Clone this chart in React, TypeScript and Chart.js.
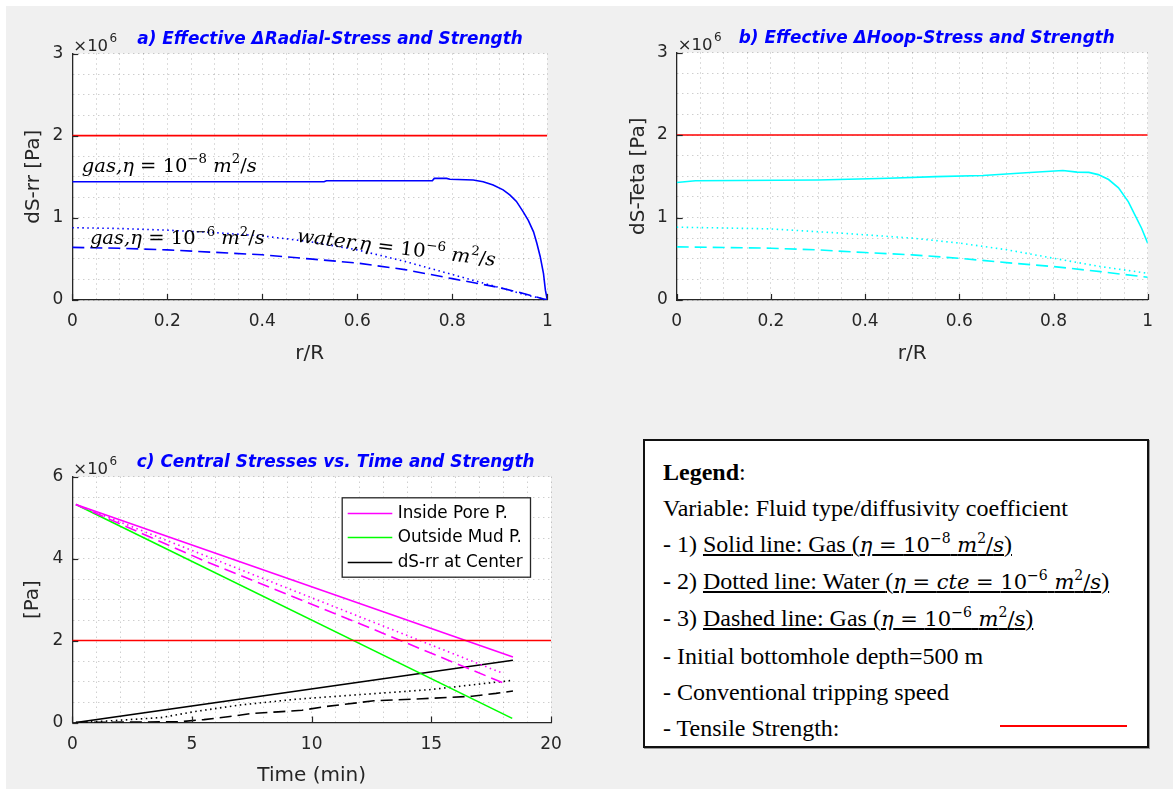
import React, { useEffect, useRef } from 'react';
import { Chart, registerables } from 'chart.js';

Chart.register(...registerables);

// ================= DATA (stresses in units of 10^6 Pa, as on the "×10^6" axes) =================
const tensileStrength = 2;

// tick labels
const rTicks = [0, 0.2, 0.4, 0.6, 0.8, 1];
const stressTicksAB = [0, 1, 2, 3];
const timeTicks = [0, 5, 10, 15, 20];
const stressTicksC = [0, 2, 4, 6];

// a) Effective Δ radial stress vs r/R
const radialGasSlowR = [0, 0.53, 0.535, 0.758, 0.762, 0.788, 0.795, 0.844, 0.865, 0.886, 0.907, 0.921, 0.935, 0.949, 0.96, 0.971, 0.978, 0.985, 0.992, 0.996, 1];
const radialGasSlowS = [1.44, 1.44, 1.452, 1.452, 1.48, 1.48, 1.47, 1.46, 1.44, 1.40, 1.34, 1.28, 1.20, 1.075, 0.97, 0.83, 0.69, 0.53, 0.32, 0.12, 0];
const radialWaterR = [0, 0.1, 0.2, 0.3, 0.4, 0.5, 0.6, 0.7, 0.8, 0.9, 0.95, 1];
const radialWaterS = [0.88, 0.87, 0.85, 0.82, 0.78, 0.71, 0.61, 0.47, 0.31, 0.15, 0.07, 0];
const radialGasFastR = [0, 0.1, 0.2, 0.3, 0.4, 0.5, 0.6, 0.7, 0.8, 0.9, 0.95, 1];
const radialGasFastS = [0.64, 0.63, 0.61, 0.58, 0.55, 0.50, 0.45, 0.37, 0.26, 0.15, 0.08, 0];

// b) Effective Δ hoop stress vs r/R
const hoopGasSlowR = [0, 0.04, 0.3, 0.45, 0.55, 0.65, 0.75, 0.82, 0.85, 0.875, 0.895, 0.917, 0.938, 0.959, 0.973, 0.987, 1];
const hoopGasSlowS = [1.425, 1.445, 1.455, 1.475, 1.495, 1.51, 1.545, 1.57, 1.55, 1.547, 1.52, 1.46, 1.36, 1.19, 1.03, 0.87, 0.69];
const hoopWaterR = [0, 0.2, 0.35, 0.5, 0.6, 0.7, 0.8, 0.9, 1];
const hoopWaterS = [0.883, 0.862, 0.81, 0.75, 0.69, 0.61, 0.506, 0.405, 0.324];
const hoopGasFastR = [0, 0.2, 0.3, 0.4, 0.5, 0.6, 0.7, 0.8, 0.9, 1];
const hoopGasFastS = [0.644, 0.628, 0.607, 0.575, 0.547, 0.506, 0.453, 0.405, 0.344, 0.275];

// c) Central stresses vs time (min)
const poreGasSlowT = [0.15, 18.41];
const poreGasSlowP = [5.32, 1.60];
const poreWaterT = [0.15, 17.99];
const poreWaterP = [5.32, 1.20];
const poreGasFastT = [0.15, 5.5, 11.6, 17.99];
const poreGasFastP = [5.32, 3.95, 2.51, 0.97];
const mudT = [0.15, 18.38];
const mudP = [5.32, 0.10];
const centerGasSlowT = [0.15, 18.41];
const centerGasSlowS = [0, 1.52];
const centerWaterT = [0.15, 1.3, 3.7, 5.05, 6.9, 9.2, 10.8, 14.9, 18.41];
const centerWaterS = [0, 0.03, 0.12, 0.26, 0.42, 0.56, 0.63, 0.80, 1.03];
const centerGasFastT = [0.15, 4.5, 5.5, 6.5, 7.5, 8.6, 9.6, 10.6, 12.6, 14.6, 16.7, 17.7, 18.41];
const centerGasFastS = [0, 0.02, 0.07, 0.14, 0.22, 0.26, 0.30, 0.39, 0.53, 0.58, 0.64, 0.71, 0.77];

// ================= STYLE =================
const FONT = '"DejaVu Sans", "Liberation Sans", sans-serif';
const MATH = '"DejaVu Serif", serif';
const INK = '#262626';
const GRID = 'rgba(38,38,38,0.32)';
const RED = '#ff0000';
const BLUE = '#0000ff';
const CYAN = '#00ffff';
const MAGENTA = '#ff00ff';
const GREEN = '#00ff00';
const BLACK = '#000000';

type LineStyle = 'solid' | 'dot' | 'dash';
type Part = { t: string; it?: boolean; sup?: boolean };
type Annotation = { x: number; y: number; angle: number; width: number; size: number; parts: Part[] };
type Area = { left: number; top: number; right: number; bottom: number };
type Panel = {
  W: number; H: number; area: Area;
  xTicks: number[]; xStep: number; yTicks: number[]; yStep: number;
  xTitle: string; yTitle: string; xTitleGap: number; yTitleGap: number;
  title: string; titleDx: number;
  datasets: any[];
  annotations?: Annotation[];
  legend?: { left: number; top: number; width: number; height: number; firstRow: number; rowGap: number };
};

function series(label: string, xs: number[], ys: number[], color: string, style: LineStyle, inLegend = false) {
  return {
    label,
    inLegend,
    data: xs.map((x, i) => ({ x, y: ys[i] })),
    borderColor: color,
    backgroundColor: color,
    borderWidth: 1.6,
    borderDash: style === 'dot' ? [1.5, 3.5] : style === 'dash' ? [12, 6] : [],
    borderCapStyle: 'butt',
    pointRadius: 0,
    pointHoverRadius: 0,
    fill: false,
    tension: 0,
  };
}

function strengthLine(xTicks: number[]) {
  const x0 = xTicks[0];
  const x1 = xTicks[xTicks.length - 1];
  return series('Tensile Strength', [x0, x1], [tensileStrength, tensileStrength], RED, 'solid');
}

const gasSlowText: Part[] = [
  { t: 'gas,', it: true }, { t: 'η', it: true }, { t: ' = ' }, { t: '10' }, { t: '−8', sup: true },
  { t: ' ' }, { t: 'm', it: true }, { t: '2', sup: true }, { t: '/' }, { t: 's', it: true },
];
const gasFastText: Part[] = [
  { t: 'gas,', it: true }, { t: 'η', it: true }, { t: ' = ' }, { t: '10' }, { t: '−6', sup: true },
  { t: ' ' }, { t: 'm', it: true }, { t: '2', sup: true }, { t: '/' }, { t: 's', it: true },
];
const waterText: Part[] = [
  { t: 'water,', it: true }, { t: 'η', it: true }, { t: ' = ' }, { t: '10' }, { t: '−6', sup: true },
  { t: ' ' }, { t: 'm', it: true }, { t: '2', sup: true }, { t: '/' }, { t: 's', it: true },
];

function partFont(p: Part, size: number) {
  const fs = p.sup ? size * 0.68 : size;
  return `${p.it ? 'italic ' : ''}${fs}px ${MATH}`;
}

function decor(p: Panel) {
  return {
    id: 'decor',
    beforeDraw(chart: any) {
      const { ctx, chartArea: a } = chart;
      ctx.save();
      ctx.fillStyle = '#ffffff';
      ctx.fillRect(a.left, a.top, a.right - a.left, a.bottom - a.top);
      ctx.restore();
    },
    afterDraw(chart: any) {
      const { ctx, chartArea: a, scales } = chart;
      const xs = scales.x;
      const ys = scales.y;
      ctx.save();
      // inward major tick marks
      ctx.strokeStyle = INK;
      ctx.lineWidth = 1.2;
      ctx.setLineDash([]);
      for (const v of p.xTicks) {
        const px = Math.round(xs.getPixelForValue(v)) + 0.5;
        ctx.beginPath();
        ctx.moveTo(px, a.bottom);
        ctx.lineTo(px, a.bottom - 6);
        ctx.stroke();
      }
      for (const v of p.yTicks) {
        const py = Math.round(ys.getPixelForValue(v)) + 0.5;
        ctx.beginPath();
        ctx.moveTo(a.left, py);
        ctx.lineTo(a.left + 6, py);
        ctx.stroke();
      }
      // exponent "×10^6"
      ctx.fillStyle = INK;
      ctx.textBaseline = 'alphabetic';
      ctx.textAlign = 'left';
      ctx.font = `16.5px ${FONT}`;
      const ex = a.left + 1;
      const ey = a.top - 2.5;
      ctx.fillText('×10', ex, ey);
      const w10 = ctx.measureText('×10').width;
      ctx.font = `12px ${FONT}`;
      ctx.fillText('6', ex + w10 + 1.5, ey - 9.5);
      // title
      ctx.fillStyle = '#0000ff';
      ctx.font = `italic bold 16.9px ${FONT}`;
      ctx.fillText(p.title, a.left + p.titleDx, a.top - 9.5);
      // math annotations
      for (const an of p.annotations || []) {
        let natural = 0;
        for (const part of an.parts) {
          ctx.font = partFont(part, an.size);
          natural += ctx.measureText(part.t).width;
        }
        const sx = an.width / natural;
        ctx.save();
        ctx.translate(xs.getPixelForValue(an.x), ys.getPixelForValue(an.y));
        ctx.rotate((an.angle * Math.PI) / 180);
        ctx.scale(sx, 1);
        ctx.fillStyle = '#000000';
        let cx = 0;
        for (const part of an.parts) {
          ctx.font = partFont(part, an.size);
          ctx.fillText(part.t, cx, part.sup ? -an.size * 0.45 : 0);
          cx += ctx.measureText(part.t).width;
        }
        ctx.restore();
      }
      // boxed legend
      if (p.legend) {
        const L = p.legend;
        ctx.fillStyle = '#ffffff';
        ctx.fillRect(L.left, L.top, L.width, L.height);
        ctx.strokeStyle = INK;
        ctx.lineWidth = 1.3;
        ctx.strokeRect(L.left + 0.5, L.top + 0.5, L.width, L.height);
        const items = chart.data.datasets.filter((d: any) => d.inLegend);
        items.forEach((d: any, i: number) => {
          const y = Math.round(L.top + L.firstRow + i * L.rowGap) + 0.5;
          ctx.strokeStyle = d.borderColor;
          ctx.lineWidth = d.borderWidth;
          ctx.setLineDash(d.borderDash || []);
          ctx.beginPath();
          ctx.moveTo(L.left + 6, y);
          ctx.lineTo(L.left + 50.6, y);
          ctx.stroke();
          ctx.setLineDash([]);
          ctx.fillStyle = '#000000';
          ctx.font = `16.8px ${FONT}`;
          ctx.textBaseline = 'middle';
          ctx.fillText(d.label, L.left + 56, y);
        });
      }
      ctx.restore();
    },
  };
}

function buildConfig(p: Panel): any {
  const labeler = (majors: number[]) => (v: any) => {
    const n = Number(v);
    const m = majors.find((t) => Math.abs(t - n) < 1e-7 * Math.max(1, Math.abs(t)));
    return m === undefined ? '' : String(m);
  };
  const tickFont = { family: FONT, size: 17 };
  const titleFont = { family: FONT, size: 20 };
  return {
    type: 'line',
    data: { datasets: p.datasets },
    options: {
      responsive: false,
      animation: false,
      events: [],
      layout: { padding: { left: 0, top: p.area.top, right: p.W - p.area.right, bottom: 0 } },
      plugins: { legend: { display: false }, tooltip: { enabled: false }, title: { display: false } },
      scales: {
        x: {
          type: 'linear',
          position: 'bottom',
          min: p.xTicks[0],
          max: p.xTicks[p.xTicks.length - 1],
          ticks: {
            stepSize: p.xStep, maxTicksLimit: 1000, autoSkip: false, maxRotation: 0, minRotation: 0,
            padding: 11.5, color: INK, font: tickFont, callback: labeler(p.xTicks),
          },
          grid: { color: GRID, lineWidth: 1, drawTicks: false },
          border: { display: true, color: INK, width: 1.3, dash: [1, 4] },
          title: {
            display: true, text: p.xTitle, color: INK, font: titleFont,
            padding: { top: 0, bottom: p.H - p.area.bottom - p.xTitleGap - 12 },
          },
          afterFit: (s: any) => { s.height = p.H - p.area.bottom; },
        },
        y: {
          type: 'linear',
          position: 'left',
          min: p.yTicks[0],
          max: p.yTicks[p.yTicks.length - 1],
          ticks: {
            stepSize: p.yStep, maxTicksLimit: 1000, autoSkip: false,
            padding: 9, color: INK, font: tickFont, callback: labeler(p.yTicks),
          },
          grid: { color: GRID, lineWidth: 1, drawTicks: false },
          border: { display: true, color: INK, width: 1.3, dash: [1, 4] },
          title: {
            display: true, text: p.yTitle, color: INK, font: titleFont,
            padding: { top: p.area.left - p.yTitleGap - 12, bottom: 0 },
          },
          afterFit: (s: any) => { s.width = p.area.left; },
        },
      },
    },
    plugins: [decor(p)],
  };
}

const panelA: Panel = {
  W: 590, H: 400,
  area: { left: 72.3, top: 53.5, right: 547.3, bottom: 300 },
  xTicks: rTicks, xStep: 0.05, yTicks: stressTicksAB, yStep: 0.25,
  xTitle: 'r/R', yTitle: 'dS-rr [Pa]', xTitleGap: 53.5, yTitleGap: 39,
  title: 'a) Effective ΔRadial-Stress and Strength', titleDx: 65,
  datasets: [
    strengthLine(rTicks),
    series('Gas η=1e-8', radialGasSlowR, radialGasSlowS, BLUE, 'solid'),
    series('Water η=1e-6', radialWaterR, radialWaterS, BLUE, 'dot'),
    series('Gas η=1e-6', radialGasFastR, radialGasFastS, BLUE, 'dash'),
  ],
  annotations: [
    { x: 0.02, y: 1.56, angle: 0, width: 175, size: 19, parts: gasSlowText },
    { x: 0.037, y: 0.68, angle: 0, width: 175, size: 19, parts: gasFastText },
    { x: 0.472, y: 0.71, angle: 7, width: 200, size: 19, parts: waterText },
  ],
};

const panelB: Panel = {
  W: 583, H: 400,
  area: { left: 86.7, top: 52.5, right: 557.7, bottom: 300 },
  xTicks: rTicks, xStep: 0.05, yTicks: stressTicksAB, yStep: 0.25,
  xTitle: 'r/R', yTitle: 'dS-Teta [Pa]', xTitleGap: 54, yTitleGap: 38.2,
  title: 'b) Effective ΔHoop-Stress and Strength', titleDx: 62,
  datasets: [
    strengthLine(rTicks),
    series('Gas η=1e-8', hoopGasSlowR, hoopGasSlowS, CYAN, 'solid'),
    series('Water η=1e-6', hoopWaterR, hoopWaterS, CYAN, 'dot'),
    series('Gas η=1e-6', hoopGasFastR, hoopGasFastS, CYAN, 'dash'),
  ],
};

const panelC: Panel = {
  W: 600, H: 369,
  area: { left: 72.3, top: 56.7, right: 551, bottom: 302.5 },
  xTicks: timeTicks, xStep: 1, yTicks: stressTicksC, yStep: 0.5,
  xTitle: 'Time (min)', yTitle: '[Pa]', xTitleGap: 53.5, yTitleGap: 40,
  title: 'c) Central Stresses vs. Time and Strength', titleDx: 64.5,
  datasets: [
    strengthLine(timeTicks),
    series('Inside Pore P.', poreGasSlowT, poreGasSlowP, MAGENTA, 'solid', true),
    series('Inside Pore P. (water)', poreWaterT, poreWaterP, MAGENTA, 'dot'),
    series('Inside Pore P. (gas 1e-6)', poreGasFastT, poreGasFastP, MAGENTA, 'dash'),
    series('Outside Mud P.', mudT, mudP, GREEN, 'solid', true),
    series('dS-rr at Center', centerGasSlowT, centerGasSlowS, BLACK, 'solid', true),
    series('dS-rr at Center (water)', centerWaterT, centerWaterS, BLACK, 'dot'),
    series('dS-rr at Center (gas 1e-6)', centerGasFastT, centerGasFastS, BLACK, 'dash'),
  ],
  legend: { left: 341.7, top: 77.3, width: 188.3, height: 79.4, firstRow: 15.4, rowGap: 24.5 },
};

function ChartCanvas({ panel, left, top }: { panel: Panel; left: number; top: number }) {
  const ref = useRef<HTMLCanvasElement>(null);
  useEffect(() => {
    const chart = new Chart(ref.current as HTMLCanvasElement, buildConfig(panel));
    return () => chart.destroy();
  }, [panel]);
  return (
    <canvas
      ref={ref}
      width={panel.W}
      height={panel.H}
      style={{ position: 'absolute', left, top, width: panel.W, height: panel.H }}
    />
  );
}

const mathStyle: React.CSSProperties = { fontFamily: MATH, fontSize: 21 };
const mathIt: React.CSSProperties = { fontFamily: MATH, fontSize: 21, fontStyle: 'italic' };
const supStyle: React.CSSProperties = { fontFamily: MATH, fontSize: 14, verticalAlign: 9, lineHeight: 0 };

function Eta({ expo, cte }: { expo: string; cte?: boolean }) {
  return (
    <span>
      (<span style={mathIt}>η</span>
      <span style={mathStyle}> = </span>
      {cte ? (
        <>
          <span style={mathIt}>cte</span>
          <span style={mathStyle}> = </span>
        </>
      ) : null}
      <span style={mathStyle}>10</span>
      <span style={supStyle}>{expo}</span>
      <span style={mathStyle}> </span>
      <span style={mathIt}>m</span>
      <span style={supStyle}>2</span>
      <span style={mathStyle}>/</span>
      <span style={mathIt}>s</span>)
    </span>
  );
}

function NoteBox() {
  return (
    <div
      style={{
        position: 'absolute', left: 643, top: 439, width: 506, height: 309, boxSizing: 'border-box',
        border: '2px solid #111', background: '#ffffff', boxShadow: '1px 1px 0 #9a9a9a',
        fontFamily: '"Liberation Serif", "Times New Roman", serif', fontSize: 24, color: '#000',
        lineHeight: '36.2px', paddingTop: 12.6, paddingLeft: 18, whiteSpace: 'nowrap',
      }}
    >
      <div><b>Legend</b>:</div>
      <div>Variable: Fluid type/diffusivity coefficient</div>
      <div>- 1) <u>Solid line: Gas <Eta expo="−8" /></u></div>
      <div>- 2) <u>Dotted line: Water <Eta expo="−6" cte /></u></div>
      <div>- 3) <u>Dashed line: Gas <Eta expo="−6" /></u></div>
      <div>- Initial bottomhole depth=500 m</div>
      <div>- Conventional tripping speed</div>
      <div>- Tensile Strength:</div>
      <div style={{ position: 'absolute', left: 355, top: 283.7, width: 127, height: 2, background: RED }} />
    </div>
  );
}

export default function App() {
  return (
    <div style={{ position: 'fixed', left: 0, top: 0, width: 1173, height: 789, background: '#ffffff', overflow: 'hidden' }}>
      <div style={{ position: 'absolute', left: 6, top: 6, width: 1167, height: 783, background: '#f0f0f0' }} />
      <ChartCanvas panel={panelA} left={0} top={0} />
      <ChartCanvas panel={panelB} left={590} top={0} />
      <ChartCanvas panel={panelC} left={0} top={420} />
      <NoteBox />
    </div>
  );
}
